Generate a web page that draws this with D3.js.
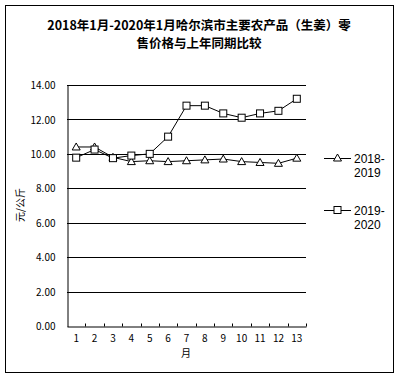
<!DOCTYPE html>
<html>
<head>
<meta charset="utf-8">
<script src="https://cdn.jsdelivr.net/npm/d3@7"></script>
<style>
  body { margin: 0; background: #fff; }
  text { font-family: "SimSun", "Noto Sans CJK SC", sans-serif; fill: #000; }
</style>
</head>
<body>
<div id="chart"></div>
<script>
// months along the x axis (1 = Jan, 13 = next Jan)
const months = [1, 2, 3, 4, 5, 6, 7, 8, 9, 10, 11, 12, 13];
const yTicks = [0, 2, 4, 6, 8, 10, 12, 14];

// retail price of ginger, yuan per kg
const prices20182019 = [10.4, 10.4, 9.8, 9.55, 9.6, 9.55, 9.6, 9.65, 9.7, 9.55, 9.5, 9.45, 9.75];
const prices20192020 = [9.78, 10.25, 9.75, 9.9, 10.0, 11.0, 12.8, 12.8, 12.35, 12.1, 12.35, 12.5, 13.2];

const seriesNames = ["2018-2019", "2019-2020"];

const width = 401, height = 378;
const margin = { top: 85, right: 95, bottom: 52, left: 67 };

const svg = d3.select("#chart")
  .append("svg")
  .attr("width", width)
  .attr("height", height);

// outer frame
svg.append("rect")
  .attr("x", 5.5).attr("y", 5.5)
  .attr("width", 388).attr("height", 367)
  .attr("fill", "none")
  .attr("stroke", "#000");

// title
const title = svg.append("text")
  .attr("text-anchor", "middle")
  .style("font-size", "12.5px")
  .style("font-weight", "bold");
title.append("tspan").attr("x", 199).attr("y", 30).text("2018年1月-2020年1月哈尔滨市主要农产品（生姜）零");
title.append("tspan").attr("x", 199).attr("y", 48).text("售价格与上年同期比较");

const xScale = d3.scaleBand()
  .domain(months)
  .range([margin.left, width - margin.right]);

const yScale = d3.scaleLinear()
  .domain([0, 14])
  .range([height - margin.bottom, margin.top]);

// gridlines
svg.append("g")
  .selectAll("line")
  .data(yTicks.filter(d => d > 0))
  .enter().append("line")
  .attr("x1", margin.left)
  .attr("x2", width - margin.right)
  .attr("y1", d => Math.round(yScale(d)) + 0.5)
  .attr("y2", d => Math.round(yScale(d)) + 0.5)
  .attr("stroke", "#000");

// y axis
const yAxis = svg.append("g")
  .attr("transform", `translate(${margin.left + 0.5}, 0.5)`)
  .call(d3.axisLeft(yScale).tickValues(yTicks).tickSize(0).tickPadding(12).tickFormat(d3.format(".2f")));
yAxis.select(".domain").attr("stroke", "#000");
yAxis.selectAll("text")
  .style("font-size", "10px")
  .style("font-family", '"SimSun", "Noto Sans CJK SC", sans-serif');

// x axis, ticks inside
const xAxis = svg.append("g")
  .attr("transform", `translate(0, ${Math.round(yScale(0)) + 0.5})`)
  .call(d3.axisBottom(xScale).tickSize(0).tickPadding(8));
xAxis.select(".domain").attr("stroke", "#000");
xAxis.selectAll("text")
  .style("font-size", "10px")
  .style("font-family", '"SimSun", "Noto Sans CJK SC", sans-serif');

xAxis.selectAll(".inner-tick")
  .data(months)
  .enter().append("line")
  .attr("x1", d => Math.round(xScale(d) + xScale.bandwidth()) + 0.5)
  .attr("x2", d => Math.round(xScale(d) + xScale.bandwidth()) + 0.5)
  .attr("y1", -3)
  .attr("y2", 0)
  .attr("stroke", "#000");

// axis labels
svg.append("text")
  .attr("x", 186)
  .attr("y", 357)
  .attr("text-anchor", "middle")
  .style("font-size", "10px")
  .text("月");

svg.append("text")
  .attr("transform", "translate(24, 205) rotate(-90)")
  .attr("text-anchor", "middle")
  .style("font-size", "10px")
  .text("元/公斤");

const cx = d => xScale(d) + xScale.bandwidth() / 2;

const line = d3.line()
  .x((d, i) => cx(months[i]))
  .y(d => yScale(d));

const trianglePath = "M0,-4L4,3L-4,3Z";

function drawTriangles(g, data) {
  g.selectAll("path.marker")
    .data(data)
    .enter().append("path")
    .attr("class", "marker")
    .attr("transform", (d, i) => `translate(${cx(months[i])}, ${yScale(d)})`)
    .attr("d", trianglePath)
    .attr("fill", "#fff")
    .attr("stroke", "#000");
}

function drawSquares(g, data) {
  g.selectAll("rect.marker")
    .data(data)
    .enter().append("rect")
    .attr("class", "marker")
    .attr("x", (d, i) => cx(months[i]) - 3.5)
    .attr("y", d => yScale(d) - 3.5)
    .attr("width", 7)
    .attr("height", 7)
    .attr("fill", "#fff")
    .attr("stroke", "#000");
}

// series 2018-2019
const s1 = svg.append("g");
s1.append("path")
  .datum(prices20182019)
  .attr("d", line)
  .attr("fill", "none")
  .attr("stroke", "#000");
drawTriangles(s1, prices20182019);

// series 2019-2020
const s2 = svg.append("g");
s2.append("path")
  .datum(prices20192020)
  .attr("d", line)
  .attr("fill", "none")
  .attr("stroke", "#000");
drawSquares(s2, prices20192020);

// legend
const legendY = [158, 210];
seriesNames.forEach((name, i) => {
  const g = svg.append("g").attr("transform", `translate(324, ${legendY[i]})`);
  g.append("line")
    .attr("x1", 0).attr("x2", 27)
    .attr("y1", 0.5).attr("y2", 0.5)
    .attr("stroke", "#000");
  if (i === 0) {
    g.append("path").attr("transform", "translate(13.5, 0)").attr("d", trianglePath)
      .attr("fill", "#fff").attr("stroke", "#000");
  } else {
    g.append("rect").attr("x", 10).attr("y", -3.5).attr("width", 7).attr("height", 7)
      .attr("fill", "#fff").attr("stroke", "#000");
  }
  const parts = name.split("-");
  const t = g.append("text").style("font-size", "12px").style("font-family", '"Liberation Sans", Arial, sans-serif');
  t.append("tspan").attr("x", 30).attr("y", 4.5).text(parts[0] + "-");
  t.append("tspan").attr("x", 30).attr("y", 18.5).text(parts[1]);
});
</script>
</body>
</html>
